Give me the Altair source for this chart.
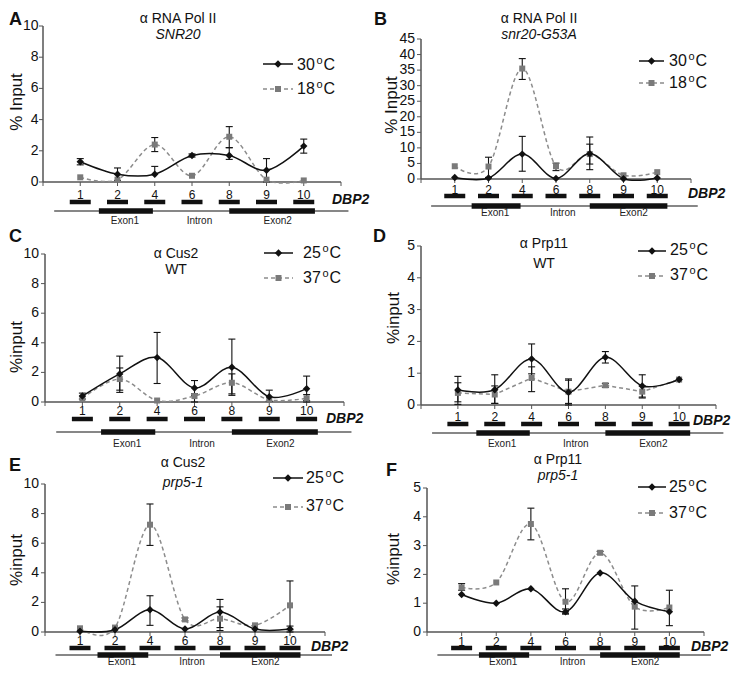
import altair as alt
import pandas as pd

FONT = "Liberation Sans"
INK = "#111111"
AXIS = "#555555"
GRAY_LINE = "#8c8c8c"
GRAY_MARK = "#7a7a7a"

# ---------------- data ----------------
positions = [1, 2, 3, 4, 5, 6, 7]
categories = ["1", "2", "4", "6", "8", "9", "10"]
x_ticks = [0, 1, 2, 3, 4, 5, 6, 7, 8]

gene_span = [0.3, 8.2]
exon_starts = [1.5, 5.0]
exon_ends = [2.95, 7.3]
region_labels = ["Exon1", "Intron", "Exon2"]
region_label_pos = [2.2, 4.2, 6.3]
gene_name = "DBP2"

# A: anti RNA Pol II, SNR20
a_temps = ["30", "18"]
a_s1 = [1.3, 0.5, 0.5, 1.7, 1.7, 0.75, 2.3]
a_s1_lo = [1.1, 0.1, None, 1.6, 1.45, 0.0, 1.85]
a_s1_hi = [1.5, 0.9, 1.0, 1.8, 2.2, 1.5, 2.75]
a_s2 = [0.3, 0.15, 2.4, 0.4, 2.9, 0.15, 0.1]
a_s2_lo = [None, None, 1.95, None, 2.2, None, None]
a_s2_hi = [None, None, 2.85, None, 3.55, None, None]

# B: anti RNA Pol II, snr20-G53A
b_temps = ["30", "18"]
b_s1 = [0.5, 0.3, 8.0, 0.2, 8.1, 0.1, 0.3]
b_s1_lo = [None, None, 2.5, None, 3.0, None, None]
b_s1_hi = [None, None, 13.7, None, 11.2, None, None]
b_s2 = [4.1, 4.0, 35.5, 4.1, 8.0, 1.2, 2.2]
b_s2_lo = [None, 0.5, 32.0, 2.7, 4.8, None, None]
b_s2_hi = [None, 7.0, 38.7, 5.1, 13.5, None, None]

# C: anti Cus2, WT
c_temps = ["25", "37"]
c_s1 = [0.4, 1.9, 3.0, 0.95, 2.35, 0.35, 0.9]
c_s1_lo = [0.2, 0.65, 1.25, 0.45, 0.45, 0.05, 0.1]
c_s1_hi = [0.6, 3.1, 4.7, 1.45, 4.25, 0.8, 1.75]
c_s2 = [0.25, 1.55, 0.1, 0.4, 1.3, 0.15, 0.25]
c_s2_lo = [None, 0.8, None, 0.0, 0.55, None, 0.0]
c_s2_hi = [None, 2.3, None, 0.55, 1.9, None, 0.5]

# D: anti Prp11, WT
d_temps = ["25", "37"]
d_s1 = [0.47, 0.48, 1.45, 0.4, 1.5, 0.6, 0.8]
d_s1_lo = [0.02, 0.05, 0.98, 0.0, 1.32, 0.22, None]
d_s1_hi = [0.9, 0.95, 1.92, 0.82, 1.68, 0.95, None]
d_s2 = [0.38, 0.33, 0.85, 0.42, 0.62, 0.42, 0.8]
d_s2_lo = [0.1, 0.05, 0.42, 0.05, 0.56, 0.25, None]
d_s2_hi = [0.7, 0.6, 1.2, 0.78, 0.68, 0.6, None]

# E: anti Cus2, prp5-1
e_temps = ["25", "37"]
e_s1 = [0.05, 0.15, 1.5, 0.2, 1.35, 0.2, 0.2]
e_s1_lo = [None, None, 0.45, None, 0.1, None, 0.0]
e_s1_hi = [None, None, 2.45, None, 2.2, None, 0.4]
e_s2 = [0.25, 0.3, 7.25, 0.85, 0.9, 0.45, 1.8]
e_s2_lo = [None, None, 5.85, 0.75, 0.3, None, 0.15]
e_s2_hi = [None, None, 8.65, 0.95, 1.7, None, 3.45]

# F: anti Prp11, prp5-1
f_temps = ["25", "37"]
f_s1 = [1.3, 1.0, 1.5, 0.7, 2.05, 1.07, 0.7]
f_s1_lo = [None, None, None, 0.62, None, None, 0.22]
f_s1_hi = [None, None, None, 0.8, None, None, 1.45]
f_s2 = [1.55, 1.72, 3.75, 1.05, 2.75, 0.88, 0.85]
f_s2_lo = [1.45, None, 3.2, 0.65, 2.7, 0.1, None]
f_s2_hi = [1.68, None, 4.3, 1.5, 2.8, 1.6, None]

# ---------------- layout (page pixels) ----------------
PANELS = [
    dict(letter="A", s1=a_s1, s1lo=a_s1_lo, s1hi=a_s1_hi, s2=a_s2, s2lo=a_s2_lo, s2hi=a_s2_hi,
         temps=a_temps, t1="\u03b1 RNA Pol II", t2="SNR20", t2it=True, ytitle="% Input",
         ytop=10, ystep=2, ax=42, xe=340, yt=26, yb=182, ct=26, cl=42, ldx=-4.5,
         lx=-34, ly=-15, tcx=135, t1y=-3.5, t2y=12.5, ttx=-34, tty=76,
         leg=(220, 250, 38, 63, 254, 44, 68), lp=4, bar=20, line=29, lab=42, dbp=(289, 22)),
    dict(letter="B", s1=b_s1, s1lo=b_s1_lo, s1hi=b_s1_hi, s2=b_s2, s2lo=b_s2_lo, s2hi=b_s2_hi,
         temps=b_temps, t1="\u03b1 RNA Pol II", t2="snr20-G53A", t2it=True, ytitle="% Input",
         ytop=45, ystep=5, ax=420, xe=690, yt=39, yb=179, ct=26, cl=420,
         lx=-47, ly=-15, tcx=118, t1y=-3.5, t2y=12.5, ttx=-37, tty=79,
         leg=(218, 243, 35, 57, 248, 40, 62), lp=2, bar=17, line=27, lab=37, dbp=(267, 19)),
    dict(letter="C", s1=c_s1, s1lo=c_s1_lo, s1hi=c_s1_hi, s2=c_s2, s2lo=c_s2_lo, s2hi=c_s2_hi,
         temps=c_temps, t1="\u03b1 Cus2", t2="WT", t2it=False, ytitle="%input",
         ytop=10, ystep=2, ax=44, xe=343, yt=254, yb=402, ct=246, cl=42,
         lx=-34, ly=-18, tcx=133, t1y=12, t2y=28, ttx=-36, tty=101,
         leg=(221, 250, 7, 32, 260, 12, 37), lp=0, bar=17, line=30, lab=45, dbp=(283, 21)),
    dict(letter="D", s1=d_s1, s1lo=d_s1_lo, s1hi=d_s1_hi, s2=d_s2, s2lo=d_s2_lo, s2hi=d_s2_hi,
         temps=d_temps, t1="\u03b1 Prp11", t2="WT", t2it=False, ytitle="%input", interp2="linear",
         ytop=5, ystep=1, ax=420, xe=715, yt=246, yb=405, ct=246, cl=420,
         lx=-48, ly=-18, tcx=123, t1y=2, t2y=22, ttx=-35, tty=72,
         leg=(217, 245, 5, 30, 249, 9, 34), lp=3, bar=19, line=28, lab=42, dbp=(272, 20)),
    dict(letter="E", s1=e_s1, s1lo=e_s1_lo, s1hi=e_s1_hi, s2=e_s2, s2lo=e_s2_lo, s2hi=e_s2_hi,
         temps=e_temps, t1="\u03b1 Cus2", t2="prp5-1", t2it=True, ytitle="%input",
         ytop=10, ystep=2, ax=44, xe=324, yt=484, yb=632, ct=469, cl=42,
         lx=-34, ly=-12, tcx=140, t1y=-2, t2y=18, ttx=-36, tty=91,
         leg=(230, 260, 9, 38, 263, 14, 42), lp=0, bar=16, line=23, lab=33, dbp=(268, 19)),
    dict(letter="F", s1=f_s1, s1lo=f_s1_lo, s1hi=f_s1_hi, s2=f_s2, s2lo=f_s2_lo, s2hi=f_s2_hi,
         temps=f_temps, t1="\u03b1 Prp11", t2="prp5-1", t2it=True, ytitle="%input",
         ytop=5, ystep=1, ax=426, xe=703, yt=488, yb=632, ct=469, cl=420,
         lx=-35, ly=-7, tcx=137, t1y=-5, t2y=11, ttx=-41, tty=90,
         leg=(217, 245, 18, 44, 248, 23, 49), lp=1, bar=16, line=23, lab=33, dbp=(270, 19)),
]

ONE = pd.DataFrame({"k": [0]})


def txt(x, y, s, **kw):
    props = dict(font=FONT, color=INK)
    props.update(kw)
    return alt.Chart(ONE).mark_text(**props).encode(
        x=alt.value(x), y=alt.value(y), text=alt.value(s))


def err_tables(vals, lo, hi):
    bars, caps = [], []
    for p, v, l, h in zip(positions, vals, lo, hi):
        if h is not None:
            bars.append({"pos": p, "y1": v, "y2": h})
            caps.append({"pos": p, "y": h})
        if l is not None:
            bars.append({"pos": p, "y1": l, "y2": v})
            caps.append({"pos": p, "y": l})
    return pd.DataFrame(bars), pd.DataFrame(caps)


def panel(P):
    ppx = (P["xe"] - P["ax"]) / 8.0
    xmin = -(P["ax"] - P["cl"]) / ppx
    W = P["xe"] - P["cl"]
    ppy = (P["yb"] - P["yt"]) / P["ytop"]
    H = P["yb"] - P["ct"]
    ymax = H / ppy
    xs = alt.Scale(domain=[xmin, 8], nice=False, zero=False)
    ys = alt.Scale(domain=[0, ymax], nice=False, zero=False)

    def X(f):
        return alt.X(f, type="quantitative", scale=xs, axis=None)

    def Y(f):
        return alt.Y(f, type="quantitative", scale=ys, axis=None)

    layers = []

    # ---- axes drawn as marks through the scales ----
    yvals = list(range(0, P["ytop"] + P["ystep"], P["ystep"]))
    ydf = pd.DataFrame({"v": yvals, "z": [0] * len(yvals), "lab": [str(v) for v in yvals]})
    xdf = pd.DataFrame({"t": x_ticks, "z": [0] * len(x_ticks)})
    cdf = pd.DataFrame({"pos": positions, "lab": categories, "z": [0] * len(positions)})
    ax_df = pd.DataFrame({"x0": [0], "x1": [8], "y0": [0], "y1": [P["ytop"]]})

    layers.append(alt.Chart(ydf).mark_rule(color=AXIS, strokeWidth=1, xOffset=-4, x2Offset=0).encode(
        x=X("z"), x2=alt.X2("z"), y=Y("v")))
    layers.append(alt.Chart(ydf).mark_text(font=FONT, fontSize=14, color=INK, align="right",
                                           baseline="middle", dx=P.get("ldx", -6)).encode(
        x=X("z"), y=Y("v"), text="lab:N"))
    layers.append(alt.Chart(xdf).mark_rule(color=AXIS, strokeWidth=1, yOffset=0, y2Offset=4).encode(
        x=X("t"), y=Y("z"), y2=alt.Y2("z")))
    layers.append(alt.Chart(cdf).mark_text(font=FONT, fontSize=12, color=INK, align="center",
                                           baseline="top", dy=4 + P["lp"]).encode(
        x=X("pos"), y=Y("z"), text="lab:N"))
    layers.append(alt.Chart(ax_df).mark_rule(color=AXIS, strokeWidth=1.5).encode(
        x=X("x0"), y=Y("y0"), y2=alt.Y2("y1")))
    layers.append(alt.Chart(ax_df).mark_rule(color=AXIS, strokeWidth=1.5).encode(
        x=X("x0"), x2=alt.X2("x1"), y=Y("y0")))
    layers.append(txt(P["ax"] - P["cl"] + P["ttx"], P["tty"], P["ytitle"], fontSize=17,
                      angle=270, align="center", baseline="top"))

    # ---- error bars ----
    eb1, ec1 = err_tables(P["s1"], P["s1lo"], P["s1hi"])
    eb2, ec2 = err_tables(P["s2"], P["s2lo"], P["s2hi"])
    eb = pd.concat([eb1, eb2], ignore_index=True)
    ec = pd.concat([ec1, ec2], ignore_index=True)
    layers.append(alt.Chart(eb).mark_rule(color=INK, strokeWidth=1.1).encode(
        x=X("pos"), y=Y("y1"), y2=alt.Y2("y2")))
    layers.append(alt.Chart(ec).mark_rule(color=INK, strokeWidth=1.1, xOffset=-3.5, x2Offset=3.5).encode(
        x=X("pos"), x2=alt.X2("pos"), y=Y("y")))

    # ---- series ----
    d1 = pd.DataFrame({"pos": positions, "val": P["s1"]})
    d2 = pd.DataFrame({"pos": positions, "val": P["s2"]})
    layers.append(alt.Chart(d2).mark_line(interpolate=P.get("interp2", "cardinal"), color=GRAY_LINE,
                                          strokeWidth=1.5, strokeDash=[4, 3]).encode(
        x=X("pos"), y=Y("val")))
    layers.append(alt.Chart(d1).mark_line(interpolate="cardinal", color=INK, strokeWidth=1.5).encode(
        x=X("pos"), y=Y("val")))
    layers.append(alt.Chart(d2).mark_square(size=36, color=GRAY_MARK, opacity=1).encode(
        x=X("pos"), y=Y("val")))
    layers.append(alt.Chart(d1).mark_point(shape="diamond", filled=True, size=55, color=INK,
                                           opacity=1).encode(x=X("pos"), y=Y("val")))

    # ---- gene diagram ----
    prim = pd.DataFrame({"pos": positions})
    layers.append(alt.Chart(prim).mark_rule(color=INK, strokeWidth=4.5, xOffset=-10.5,
                                            x2Offset=10.5).encode(
        x=X("pos"), x2=alt.X2("pos"), y=alt.value(H + P["bar"])))
    gl = pd.DataFrame({"x0": [gene_span[0]], "x1": [gene_span[1]]})
    layers.append(alt.Chart(gl).mark_rule(color=INK, strokeWidth=1.2).encode(
        x=X("x0"), x2=alt.X2("x1"), y=alt.value(H + P["line"])))
    ex = pd.DataFrame({"x0": exon_starts, "x1": exon_ends})
    layers.append(alt.Chart(ex).mark_rule(color=INK, strokeWidth=5.5).encode(
        x=X("x0"), x2=alt.X2("x1"), y=alt.value(H + P["line"])))
    rl = pd.DataFrame({"pos": region_label_pos, "lab": region_labels})
    layers.append(alt.Chart(rl).mark_text(font=FONT, fontSize=10, color="#222222",
                                          baseline="alphabetic").encode(
        x=X("pos"), y=alt.value(H + P["lab"]), text="lab:N"))
    layers.append(txt(P["dbp"][0], H + P["dbp"][1], gene_name, fontSize=14, fontWeight="bold",
                      fontStyle="italic", align="left", baseline="alphabetic"))

    # ---- panel letter and titles ----
    layers.append(txt(P["lx"], P["ly"], P["letter"], fontSize=18, fontWeight="bold",
                      align="left", baseline="top"))
    layers.append(txt(P["tcx"], P["t1y"], P["t1"], fontSize=14, align="center",
                      baseline="alphabetic"))
    layers.append(txt(P["tcx"], P["t2y"], P["t2"], fontSize=14, align="center",
                      baseline="alphabetic", fontStyle="italic" if P["t2it"] else "normal"))

    # ---- legend ----
    x1, x2, y1, y2, tx, b1, b2 = P["leg"]
    mx = (x1 + x2) / 2
    layers.append(alt.Chart(ONE).mark_rule(color=INK, strokeWidth=1.5).encode(
        x=alt.value(x1), x2=alt.value(x2), y=alt.value(y1)))
    layers.append(alt.Chart(ONE).mark_point(shape="diamond", filled=True, size=55, color=INK,
                                            opacity=1).encode(x=alt.value(mx), y=alt.value(y1)))
    layers.append(alt.Chart(ONE).mark_rule(color=GRAY_LINE, strokeWidth=1.5,
                                           strokeDash=[4, 3]).encode(
        x=alt.value(x1), x2=alt.value(x2), y=alt.value(y2)))
    layers.append(alt.Chart(ONE).mark_square(size=36, color=GRAY_MARK, opacity=1).encode(
        x=alt.value(mx), y=alt.value(y2)))
    for t, b in zip(P["temps"], (b1, b2)):
        layers.append(txt(tx, b, t, fontSize=16, align="left", baseline="alphabetic"))
        layers.append(txt(tx + 19.5, b - 5.8, "o", fontSize=11, align="left",
                          baseline="alphabetic"))
        layers.append(txt(tx + 26.5, b, "C", fontSize=16, align="left", baseline="alphabetic"))

    return alt.layer(*layers).properties(width=W, height=H)


charts = [panel(P) for P in PANELS]
chart = alt.concat(*charts, columns=2, spacing={"row": 64, "column": 77},
                   bounds="flush", align="each").properties(
    padding={"top": 3, "left": 0, "right": 0, "bottom": 0}, background="white"
).configure(font=FONT).configure_view(strokeWidth=0, stroke="transparent")

chart.save("out.html", embed_options={"renderer": "svg", "actions": False})
